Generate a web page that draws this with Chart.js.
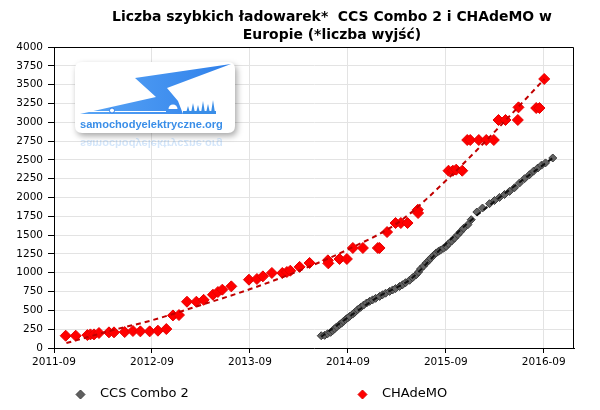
<!DOCTYPE html>
<html><head><meta charset="utf-8">
<script src="https://cdn.jsdelivr.net/npm/chart.js@4/dist/chart.umd.min.js"></script>
<style>html,body{margin:0;padding:0;background:#fff}#wrap{position:relative;width:600px;height:410px}</style>
</head><body><div id="wrap"><canvas id="c" width="600" height="410"></canvas></div>
<script>
// x values: months since 2011-09
const tickMonths = [0, 12, 24, 36, 48, 60];
const tickLabels = ['2011-09', '2012-09', '2013-09', '2014-09', '2015-09', '2016-09'];
const titleLines = ['Liczba szybkich ładowarek*  CCS Combo 2 i CHAdeMO w', 'Europie (*liczba wyjść)'];
const seriesNames = ['CCS Combo 2', 'CHAdeMO'];
const logoText = 'samochodyelektryczne.org';

const chademoMonths = [1.43,2.66,4.09,4.46,4.90,5.51,6.73,7.35,8.66,9.67,10.58,11.72,12.73,13.76,14.57,15.31,16.29,17.44,18.33,19.47,20.08,20.62,21.72,23.88,24.86,25.59,26.69,27.97,28.53,28.95,30.09,31.31,33.55,33.60,34.98,35.88,36.61,37.84,39.67,39.88,40.80,41.84,42.49,43.31,44.57,44.60,48.33,48.86,49.27,50.01,50.62,50.99,52.04,52.95,53.88,54.45,55.31,56.82,56.90,59.07,59.47,60.05];
const chademoValues = [163,163,172,181,181,199,208,208,212,226,221,221,230,252,433,438,615,615,640,708,744,775,819,908,917,952,997,997,1010,1027,1078,1130,1165,1125,1183,1183,1329,1329,1329,1329,1541,1661,1661,1661,1838,1794,2356,2356,2370,2356,2764,2764,2764,2764,2764,3030,3030,3030,3198,3189,3189,3575];

const ccsMonths = [32.74,33.15,33.52,33.88,34.13,34.37,34.62,34.98,35.23,35.47,35.72,35.96,36.21,36.58,36.83,37.19,37.56,37.93,38.29,38.66,39.03,39.40,39.89,40.25,40.62,41.11,41.48,41.84,42.33,42.70,43.07,43.56,43.93,44.38,44.66,44.90,45.27,45.60,45.88,46.12,46.49,46.82,47.10,47.34,47.71,48.05,48.33,48.70,49.07,49.47,49.80,50.17,50.70,51.11,51.80,52.49,53.35,53.96,54.57,55.19,55.80,56.41,57.02,57.64,58.25,58.74,59.27,59.72,60.21,61.10];
const ccsValues = [163,168,190,208,230,255,280,310,330,355,378,399,420,450,472,509,540,570,598,620,640,660,686,708,728,752,772,790,818,841,868,900,935,974,1010,1050,1090,1130,1160,1190,1230,1263,1285,1300,1325,1350,1385,1420,1460,1506,1545,1590,1639,1705,1807,1860,1918,1960,2001,2040,2081,2130,2192,2250,2303,2350,2392,2430,2460,2525];

const chademoTrendMonths = [1.52,7.64,11.72,17.84,23.96,30.09,36.21,42.33,48.45,54.57,60.08];
const chademoTrendValues = [66,250,360,565,780,1030,1320,1680,2270,2940,3575];
const ccsTrendMonths = [32.74,36.21,39.89,43.56,47.22,50.90,54.57,58.25,61.10];
const ccsTrendValues = [150,420,690,905,1300,1680,2000,2300,2525];

const pts = (xs, ys) => xs.map((x, i) => ({x: x, y: ys[i]}));
const FONT = 'DejaVu Sans';

function diamond(ctx, x, y, r, fill, stroke) {
  ctx.beginPath();
  ctx.moveTo(x, y - r); ctx.lineTo(x + r, y); ctx.lineTo(x, y + r); ctx.lineTo(x - r, y);
  ctx.closePath();
  ctx.fillStyle = fill; ctx.fill();
  ctx.strokeStyle = stroke; ctx.lineWidth = 1; ctx.stroke();
}
function rr(ctx, x, y, w, h, r) {
  ctx.beginPath();
  ctx.moveTo(x + r, y); ctx.lineTo(x + w - r, y); ctx.quadraticCurveTo(x + w, y, x + w, y + r);
  ctx.lineTo(x + w, y + h - r); ctx.quadraticCurveTo(x + w, y + h, x + w - r, y + h);
  ctx.lineTo(x + r, y + h); ctx.quadraticCurveTo(x, y + h, x, y + h - r);
  ctx.lineTo(x, y + r); ctx.quadraticCurveTo(x, y, x + r, y); ctx.closePath();
}
function drawBolt(ctx) {
  const g = ctx.createLinearGradient(80, 0, 230, 0);
  g.addColorStop(0, '#5aa6f6'); g.addColorStop(1, '#2f80ea');
  ctx.fillStyle = g;
  ctx.beginPath();
  ctx.moveTo(135, 78); ctx.lineTo(231, 64); ctx.lineTo(167, 88); ctx.lineTo(178, 101);
  ctx.lineTo(183, 114); ctx.lineTo(80, 114); ctx.lineTo(156, 97);
  ctx.closePath(); ctx.fill();
  // white details cut into the bolt
  ctx.strokeStyle = '#fff'; ctx.lineWidth = 1.2;
  ctx.beginPath(); ctx.moveTo(86, 111.5); ctx.lineTo(166, 111.5); ctx.stroke();
  ctx.beginPath(); ctx.arc(112, 110.5, 2.5, 0, Math.PI * 2); ctx.fillStyle = '#fff'; ctx.fill();
  ctx.strokeStyle = '#2f80ea'; ctx.lineWidth = 1; ctx.stroke();
  ctx.fillStyle = '#fff';
  ctx.beginPath(); ctx.arc(173, 109, 4.5, Math.PI, 0); ctx.closePath(); ctx.fill();
  // flames
  ctx.fillStyle = '#3a8ee8';
  const fl = [[188,106],[193,103],[198,105],[203,101],[208,104],[213,100]];
  fl.forEach(([fx, fy]) => { ctx.beginPath(); ctx.moveTo(fx - 2, 113); ctx.lineTo(fx, fy); ctx.lineTo(fx + 2, 113); ctx.closePath(); ctx.fill(); });
  ctx.fillRect(183, 111, 33, 3);
}

const customPlugin = {
  id: 'custom',
  beforeDatasetsDraw(chart) {
    const ctx = chart.ctx;
    ctx.save();
    ctx.shadowColor = 'rgba(0,0,0,0.35)'; ctx.shadowBlur = 6; ctx.shadowOffsetX = 2; ctx.shadowOffsetY = 3;
    rr(ctx, 75, 62, 160, 71, 7); ctx.fillStyle = '#fff'; ctx.fill();
    ctx.restore();
    ctx.save();
    drawBolt(ctx);
    let fs = 12;
    ctx.font = 'bold ' + fs + 'px "Liberation Sans"';
    fs = fs * 143 / ctx.measureText(logoText).width;
    ctx.font = 'bold ' + fs.toFixed(2) + 'px "Liberation Sans"';
    ctx.fillStyle = '#3a8ee8'; ctx.textAlign = 'left'; ctx.textBaseline = 'alphabetic';
    ctx.fillText(logoText, 80, 128);
    // reflection
    ctx.save();
    ctx.beginPath(); ctx.rect(70, 134, 170, 16); ctx.clip();
    ctx.translate(0, 268); ctx.scale(1, -1);
    ctx.globalAlpha = 0.22;
    ctx.fillText(logoText, 80, 128);
    ctx.globalAlpha = 0.12;
    drawBolt(ctx);
    ctx.restore();
    ctx.restore();
  },
  afterDraw(chart) {
    const ctx = chart.ctx, a = chart.chartArea;
    ctx.save();
    ctx.strokeStyle = '#000'; ctx.lineWidth = 1;
    ctx.beginPath();
    ctx.moveTo(Math.round(a.left) + 0.5, Math.round(a.top) + 0.5);
    ctx.lineTo(Math.round(a.right) - 0.5, Math.round(a.top) + 0.5);
    ctx.lineTo(Math.round(a.right) - 0.5, Math.round(a.bottom));
    ctx.stroke();
    // title
    ctx.fillStyle = '#000'; ctx.textAlign = 'center'; ctx.textBaseline = 'middle';
    let ts = 14;
    ctx.font = 'bold ' + ts + 'px "' + FONT + '"';
    ts = ts * 440 / ctx.measureText(titleLines[0]).width;
    ctx.font = 'bold ' + ts.toFixed(2) + 'px "' + FONT + '"';
    ctx.fillText(titleLines[0], 332, 17);
    ctx.fillText(titleLines[1], 332, 35);
    // legend
    ctx.font = '13px "' + FONT + '"';
    ctx.textAlign = 'left';
    diamond(ctx, 80.5, 394.5, 4.5, '#5f5f5f', '#404040');
    ctx.fillStyle = '#000'; ctx.fillText(seriesNames[0], 100, 394);
    diamond(ctx, 362.5, 394.5, 4.5, '#ff0000', '#e00000');
    ctx.fillStyle = '#000'; ctx.fillText(seriesNames[1], 382, 394);
    ctx.restore();
  }
};

new Chart(document.getElementById('c'), {
  type: 'scatter',
  data: {
    datasets: [
      { label: 'CHAdeMO trend', data: pts(chademoTrendMonths, chademoTrendValues), showLine: true, borderColor: '#c00000', borderWidth: 2, borderDash: [5, 4], pointRadius: 0, tension: 0.4, cubicInterpolationMode: 'monotone', fill: false },
      { label: 'CCS trend', data: pts(ccsTrendMonths, ccsTrendValues), showLine: true, borderColor: '#111', borderWidth: 2, borderDash: [5, 4], pointRadius: 0, tension: 0.4, cubicInterpolationMode: 'monotone', fill: false },
      { label: seriesNames[1], data: pts(chademoMonths, chademoValues), pointStyle: 'rectRot', pointRadius: 5.5, backgroundColor: '#ff0000', borderColor: '#e60000', borderWidth: 1, showLine: false },
      { label: seriesNames[0], data: pts(ccsMonths, ccsValues), pointStyle: 'rectRot', pointRadius: 4, backgroundColor: '#636363', borderColor: '#3a3a3a', borderWidth: 1, showLine: false }
    ]
  },
  options: {
    responsive: false,
    animation: false,
    devicePixelRatio: 1,
    layout: { padding: { top: 47, right: 26, bottom: 38, left: 0 } },
    plugins: { legend: { display: false }, tooltip: { enabled: false }, title: { display: false } },
    scales: {
      x: {
        type: 'linear', min: 0, max: 63.7,
        afterFit(s) { s.height = 24; },
        afterBuildTicks(s) { s.ticks = tickMonths.map(v => ({ value: v })); },
        ticks: { callback: (v) => tickLabels[tickMonths.indexOf(v)], font: { family: FONT, size: 10.5 }, color: '#000', padding: 3, maxRotation: 0, autoSkip: false },
        grid: { color: '#e3e3e3', tickColor: '#000', tickLength: 5 },
        border: { color: '#000', width: 1 }
      },
      y: {
        min: 0, max: 4000,
        afterFit(s) { s.width = 54; },
        ticks: { stepSize: 250, callback: (v) => String(v), font: { family: FONT, size: 10.5 }, color: '#000', padding: 5 },
        grid: { color: '#e3e3e3', tickColor: '#000', tickLength: 6 },
        border: { color: '#000', width: 1 }
      }
    }
  },
  plugins: [customPlugin]
});
</script></body></html>
